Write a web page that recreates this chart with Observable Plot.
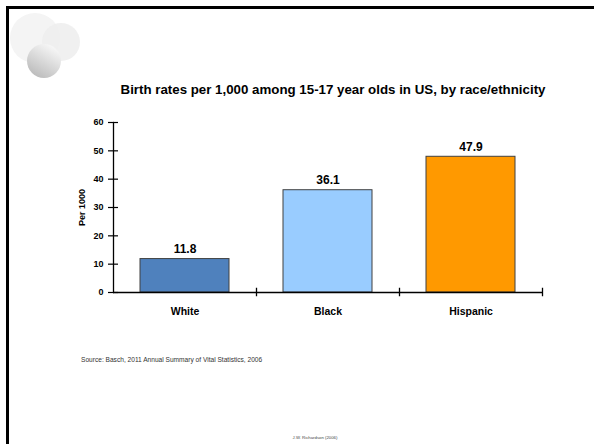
<!DOCTYPE html>
<html><head><meta charset="utf-8">
<script src="https://cdn.jsdelivr.net/npm/d3@7"></script>
<script src="https://cdn.jsdelivr.net/npm/@observablehq/plot@0.6"></script>
<style>
html,body{margin:0;padding:0;background:#fff;}
#slide{position:relative;width:594px;height:444px;overflow:hidden;font-family:"Liberation Sans",Arial,sans-serif;background:#fff;}
#border{position:absolute;left:6px;top:6px;width:620px;height:460px;border-top:3px solid #000;border-left:3px solid #000;}
#deco{position:absolute;left:0;top:0;}
#title{position:absolute;left:83px;width:500px;top:82px;text-align:center;font-size:13.3px;line-height:16px;font-weight:bold;color:#000;white-space:nowrap;}
#chart{position:absolute;left:0;top:105px;}
#source{position:absolute;left:81px;top:356px;font-size:6.6px;line-height:8px;color:#333;white-space:nowrap;}
#footer{position:absolute;left:215px;width:200px;top:435px;text-align:center;font-size:4.3px;line-height:6px;color:#444;white-space:nowrap;}
</style></head><body>
<div id="slide">
  <div id="border"></div>
  <svg id="deco" width="110" height="100">
    <defs>
      <linearGradient id="g1" x1="0.8" y1="0" x2="0.2" y2="1">
        <stop offset="0" stop-color="#fbfbfb"/>
        <stop offset="1" stop-color="#b8b8b8"/>
      </linearGradient>
    </defs>
    <circle cx="35" cy="38" r="25" fill="#f4f4f4"/>
    <circle cx="61" cy="42" r="19" fill="#ededed" fill-opacity="0.85"/>
    <circle cx="44" cy="61" r="17" fill="url(#g1)"/>
  </svg>
  <div id="title">Birth rates per 1,000 among 15-17 year olds in US, by race/ethnicity</div>
  <div id="chart"></div>
  <div id="source">Source: Basch, 2011 Annual Summary of Vital Statistics, 2006</div>
  <div id="footer">J.W. Richardson (2006)</div>
</div>
<script>
const categories = ["White", "Black", "Hispanic"];
const rates = [11.8, 36.1, 47.9];
const yTicks = [0, 10, 20, 30, 40, 50, 60];
const barColors = ["#4F81BD", "#99CCFF", "#FF9900"];
const yLabel = "Per 1000";

const data = categories.map((c, i) => ({race: c, rate: rates[i]}));

const W = 594, H = 230, ML = 113, MR = 52, MT = 17, MB = 43;
const step = (W - ML - MR) / categories.length;

const chart = Plot.plot({
  width: W, height: H,
  marginLeft: ML, marginRight: MR, marginTop: MT, marginBottom: MB,
  style: {fontFamily: "'Liberation Sans', Arial, sans-serif", color: "#000", background: "transparent", overflow: "visible"},
  x: {domain: categories, paddingInner: 0.375, paddingOuter: 0.1875, label: null},
  y: {domain: [0, 60], label: null},
  color: {domain: categories, range: barColors},
  marks: [
    Plot.barY(data, {x: "race", y: "rate", fill: "race", stroke: "#404040", strokeWidth: 1}),
    Plot.text(data, {x: "race", y: "rate", text: d => d.rate.toFixed(1), lineAnchor: "bottom", dy: -6, fontSize: 12, fontWeight: "bold", fill: "#000"}),
    Plot.ruleY([0], {stroke: "#000", strokeWidth: 1.3}),
    Plot.frame({anchor: "left", stroke: "#000", strokeWidth: 1.3}),
    Plot.axisY({ticks: yTicks, tickSize: 10, dx: 5, tickFormat: () => "", label: null, strokeWidth: 1.2}),
    Plot.axisY({ticks: yTicks, tickSize: 0, tickPadding: 10, fontSize: 9, fontWeight: "bold", label: null}),
    Plot.ruleX(data, {x: "race", dx: step / 2, y1: -1.5, y2: 1.5, stroke: "#000", strokeWidth: 1.3}),
    Plot.axisX({tickSize: 0, tickPadding: 15, fontSize: 10.5, fontWeight: "bold", label: null}),
    Plot.text([yLabel], {frameAnchor: "left", textAnchor: "middle", rotate: -90, dx: -31, fontSize: 9, fontWeight: "bold", fill: "#000"})
  ]
});
document.getElementById("chart").appendChild(chart);
</script>
</body></html>
